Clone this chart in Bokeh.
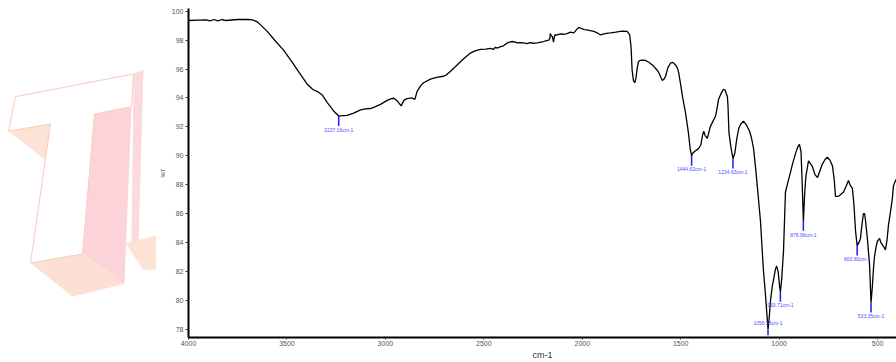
from bokeh.plotting import figure
from bokeh.layouts import row
from bokeh.models import Range1d, FixedTicker, ColumnDataSource
from bokeh.core.properties import value
from bokeh.embed import file_html
from bokeh.resources import INLINE

# FT-IR transmittance spectrum (wavenumber in cm-1, transmittance in %T)
wavenumber = [
    4000, 3950, 3910, 3890, 3870, 3850, 3830, 3810, 3750, 3700, 3675, 3650,
    3634, 3600, 3560, 3517, 3480, 3440, 3400, 3370, 3340, 3320, 3296, 3263,
    3237.16, 3215, 3195, 3161, 3126, 3100, 3076, 3050, 3025, 2991, 2970, 2957,
    2940, 2920, 2905, 2890, 2864, 2850, 2839, 2820, 2806, 2771, 2740, 2705,
    2690, 2669, 2645, 2619, 2595, 2568, 2545, 2517, 2490, 2466, 2452, 2441,
    2430, 2415, 2400, 2381, 2365, 2356, 2340, 2331, 2315, 2298, 2280, 2265,
    2250, 2229, 2210, 2197, 2185, 2170, 2165, 2162, 2158, 2152, 2146, 2140,
    2128, 2110, 2095, 2077, 2060, 2043, 2030, 2018, 2005, 1990, 1975, 1960,
    1941, 1925, 1907, 1890, 1870, 1856, 1830, 1806, 1790, 1772, 1759, 1752,
    1747, 1740, 1733, 1727, 1722, 1715, 1705, 1690, 1679, 1660, 1638, 1625,
    1613, 1600, 1593, 1585, 1577, 1565, 1552, 1540, 1527, 1518, 1511, 1500,
    1491, 1476, 1461, 1452, 1444.62, 1438, 1425, 1410, 1398, 1388, 1383, 1376,
    1365, 1350, 1336, 1324, 1315, 1308, 1295, 1283, 1275, 1263, 1260, 1255,
    1245, 1234.63, 1225, 1215, 1205, 1195, 1181, 1165, 1150, 1140, 1130, 1120,
    1110, 1095, 1080, 1070, 1063, 1056.55, 1050, 1044, 1035, 1029, 1020, 1013,
    1005, 998, 993.71, 987, 978, 968, 953, 940, 932, 918, 906, 897,
    889, 884, 876.96, 870, 864, 851, 840, 831, 818, 805, 792, 780,
    767, 755, 742, 729, 720, 714, 705, 699, 686, 673, 660, 648,
    640, 628, 620, 612, 603.80, 595, 587, 580, 572, 566, 562, 552,
    541, 533.35, 527, 521, 516, 508, 501, 490, 483, 475, 468, 460,
    452, 445, 435, 425, 420, 412, 404,
]
transmittance = [
    99.35, 99.38, 99.40, 99.33, 99.42, 99.33, 99.42, 99.35, 99.42, 99.42, 99.40, 99.25,
    99.05, 98.60, 97.95, 97.30, 96.60, 95.80, 95.00, 94.60, 94.40, 94.20, 93.70, 93.10,
    92.75, 92.78, 92.80, 92.95, 93.17, 93.25, 93.27, 93.40, 93.56, 93.83, 93.95, 93.98,
    93.80, 93.45, 93.85, 93.95, 94.00, 93.90, 94.45, 94.85, 95.05, 95.30, 95.42, 95.50,
    95.60, 95.85, 96.15, 96.50, 96.80, 97.10, 97.25, 97.35, 97.38, 97.42, 97.35, 97.50,
    97.45, 97.55, 97.60, 97.80, 97.88, 97.90, 97.85, 97.80, 97.82, 97.80, 97.75, 97.82,
    97.78, 97.80, 97.85, 97.90, 97.95, 98.00, 98.10, 98.45, 98.30, 98.25, 97.85, 98.35,
    98.35, 98.42, 98.40, 98.45, 98.55, 98.50, 98.70, 98.87, 98.80, 98.72, 98.70, 98.65,
    98.60, 98.50, 98.35, 98.42, 98.48, 98.50, 98.55, 98.60, 98.62, 98.60, 98.35, 97.50,
    95.95, 95.20, 95.05, 95.40, 95.95, 96.50, 96.60, 96.62, 96.60, 96.45, 96.20, 96.00,
    95.80, 95.40, 95.20, 95.30, 95.50, 96.10, 96.40, 96.45, 96.30, 96.10, 95.80, 94.90,
    94.10, 93.00, 91.60, 90.50, 90.00, 90.20, 90.35, 90.50, 90.75, 91.50, 91.70, 91.40,
    91.20, 92.00, 92.40, 92.70, 93.30, 93.90, 94.30, 94.60, 94.55, 94.10, 93.50, 91.60,
    90.60, 89.80, 90.20, 91.20, 91.90, 92.20, 92.40, 92.10, 91.70, 91.20, 90.50, 89.20,
    87.75, 85.50, 82.10, 80.50, 79.20, 78.00, 78.90, 80.00, 81.00, 81.40, 82.10, 82.40,
    82.00, 81.00, 80.60, 81.50, 83.40, 87.50, 88.30, 89.00, 89.45, 90.10, 90.60, 90.80,
    90.30, 88.50, 85.50, 87.50, 88.60, 89.65, 89.45, 89.25, 88.70, 88.50, 89.00, 89.45,
    89.75, 89.90, 89.70, 89.30, 88.30, 87.20, 87.20, 87.20, 87.35, 87.50, 87.90, 88.30,
    88.00, 87.75, 86.60, 84.80, 83.80, 84.00, 84.30, 85.20, 86.00, 86.00, 85.60, 84.30,
    82.50, 79.85, 80.90, 82.20, 83.00, 83.70, 84.10, 84.30, 84.00, 83.85, 83.70, 83.50,
    84.20, 85.20, 86.10, 87.05, 87.90, 88.20, 88.40,
]

# Picked absorption bands
peak_wavenumber = [3237.16, 1444.62, 1234.63, 1056.55, 993.71, 876.96, 603.80, 533.35]
peak_transmittance = [92.75, 90.00, 89.80, 78.00, 80.60, 85.50, 83.80, 79.85]

x_ticks = [4000, 3500, 3000, 2500, 2000, 1500, 1000, 500]
y_ticks = [78, 80, 82, 84, 86, 88, 90, 92, 94, 96, 98, 100]

Y_MIN, Y_MAX = 77.45, 100.18
SIDE_W = 156

# ---- faint "T" emblem panel on the left (pixel coordinates, y down) ----
side = figure(width=SIDE_W, height=362, x_range=Range1d(0, SIDE_W), y_range=Range1d(362, 0),
              output_backend="svg", toolbar_location=None,
              min_border=0, outline_line_color=None)
side.axis.visible = False
side.grid.visible = False
side.border_fill_color = "white"
side.background_fill_color = "white"

emblem_xs = [
    [8, 50, 45],                 # shadow under the bar
    [94, 131, 124, 82],          # pink side of the stem
    [30, 82, 124, 72],           # shadow at the foot of the stem
    [133, 143, 138, 131],        # side strip of the bar
    [125, 156, 156, 143],        # part of a second letter
]
emblem_ys = [
    [135, 127, 167],
    [116, 108, 303, 270],
    [280, 270, 303, 317],
    [72, 67, 257, 260],
    [258, 250, 287, 288],
]
emblem_cols = ["#fde3d5", "#fbd3d8", "#fde0d3", "#fcd9dd", "#fde3d5"]
side.patches(emblem_xs, emblem_ys, fill_color=emblem_cols, line_color=None)
side.patch([15, 133, 131, 94, 82, 30, 50, 8], [97, 72, 108, 116, 270, 280, 127, 135],
           fill_color="white", line_color="#f6cdb8", line_width=1)

# ---- spectrum ----
p = figure(
    width=896 - SIDE_W, height=362,
    x_range=Range1d(4000, 404), y_range=Range1d(Y_MIN, Y_MAX),
    output_backend="svg", toolbar_location=None,
    min_border_left=188 - SIDE_W, min_border_right=0, min_border_top=8, min_border_bottom=21,
)
p.outline_line_color = None
p.xgrid.visible = False
p.ygrid.visible = False
p.background_fill_color = "white"
p.border_fill_color = "white"

src = ColumnDataSource(data=dict(x=wavenumber, y=transmittance))
p.line("x", "y", source=src, line_color="black", line_width=1.3)

# band markers and their labels
mark_len = 0.68
seg_y1, lab_y, lab_base = [], [], []
for t in peak_transmittance:
    if t - mark_len - 0.4 < Y_MIN + 0.3:
        seg_y1.append(t - 0.4)
        lab_y.append(t + 0.48)
        lab_base.append("middle")
    else:
        seg_y1.append(t - mark_len)
        lab_y.append(t - mark_len - 0.05)
        lab_base.append("top")
labels = ["%.2fcm-1" % w for w in peak_wavenumber]
msrc = ColumnDataSource(data=dict(x=peak_wavenumber, y0=peak_transmittance, y1=seg_y1,
                                  ly=lab_y, base=lab_base, text=labels))
p.segment(x0="x", y0="y0", x1="x", y1="y1", source=msrc, line_color="#1a1aff", line_width=1.5)
p.text(x="x", y="ly", text="text", source=msrc, text_align="center",
       text_baseline="base", text_font_size="5px", text_color="#4d4dff",
       text_font=value("Liberation Sans"))

for ax in (p.xaxis[0], p.yaxis[0]):
    ax.axis_line_color = "black"
    ax.axis_line_width = 2
    ax.major_tick_line_color = "#333333"
    ax.minor_tick_line_color = None
    ax.major_tick_in = 0
    ax.major_label_text_font = "Liberation Sans"
    ax.major_label_text_font_size = "7px"
    ax.major_label_text_color = "#555555"
    ax.axis_label_text_font = "Liberation Sans"
    ax.axis_label_text_font_style = "normal"

p.xaxis.ticker = FixedTicker(ticks=x_ticks)
p.xaxis.major_tick_out = 2
p.xaxis.major_label_standoff = 1
p.xaxis.axis_label = "cm-1"
p.xaxis.axis_label_text_font_size = "9px"
p.xaxis.axis_label_text_color = "#333333"
p.xaxis.axis_label_standoff = 1

p.yaxis.ticker = FixedTicker(ticks=y_ticks)
p.yaxis.major_tick_out = 3
p.yaxis.major_label_standoff = 2
p.yaxis.axis_label = "%T"
p.yaxis.axis_label_text_font_size = "6px"
p.yaxis.axis_label_text_color = "#333333"
p.yaxis.axis_label_standoff = 3

layout = row(side, p, spacing=0)
open("out.html", "w").write(file_html(layout, INLINE))
